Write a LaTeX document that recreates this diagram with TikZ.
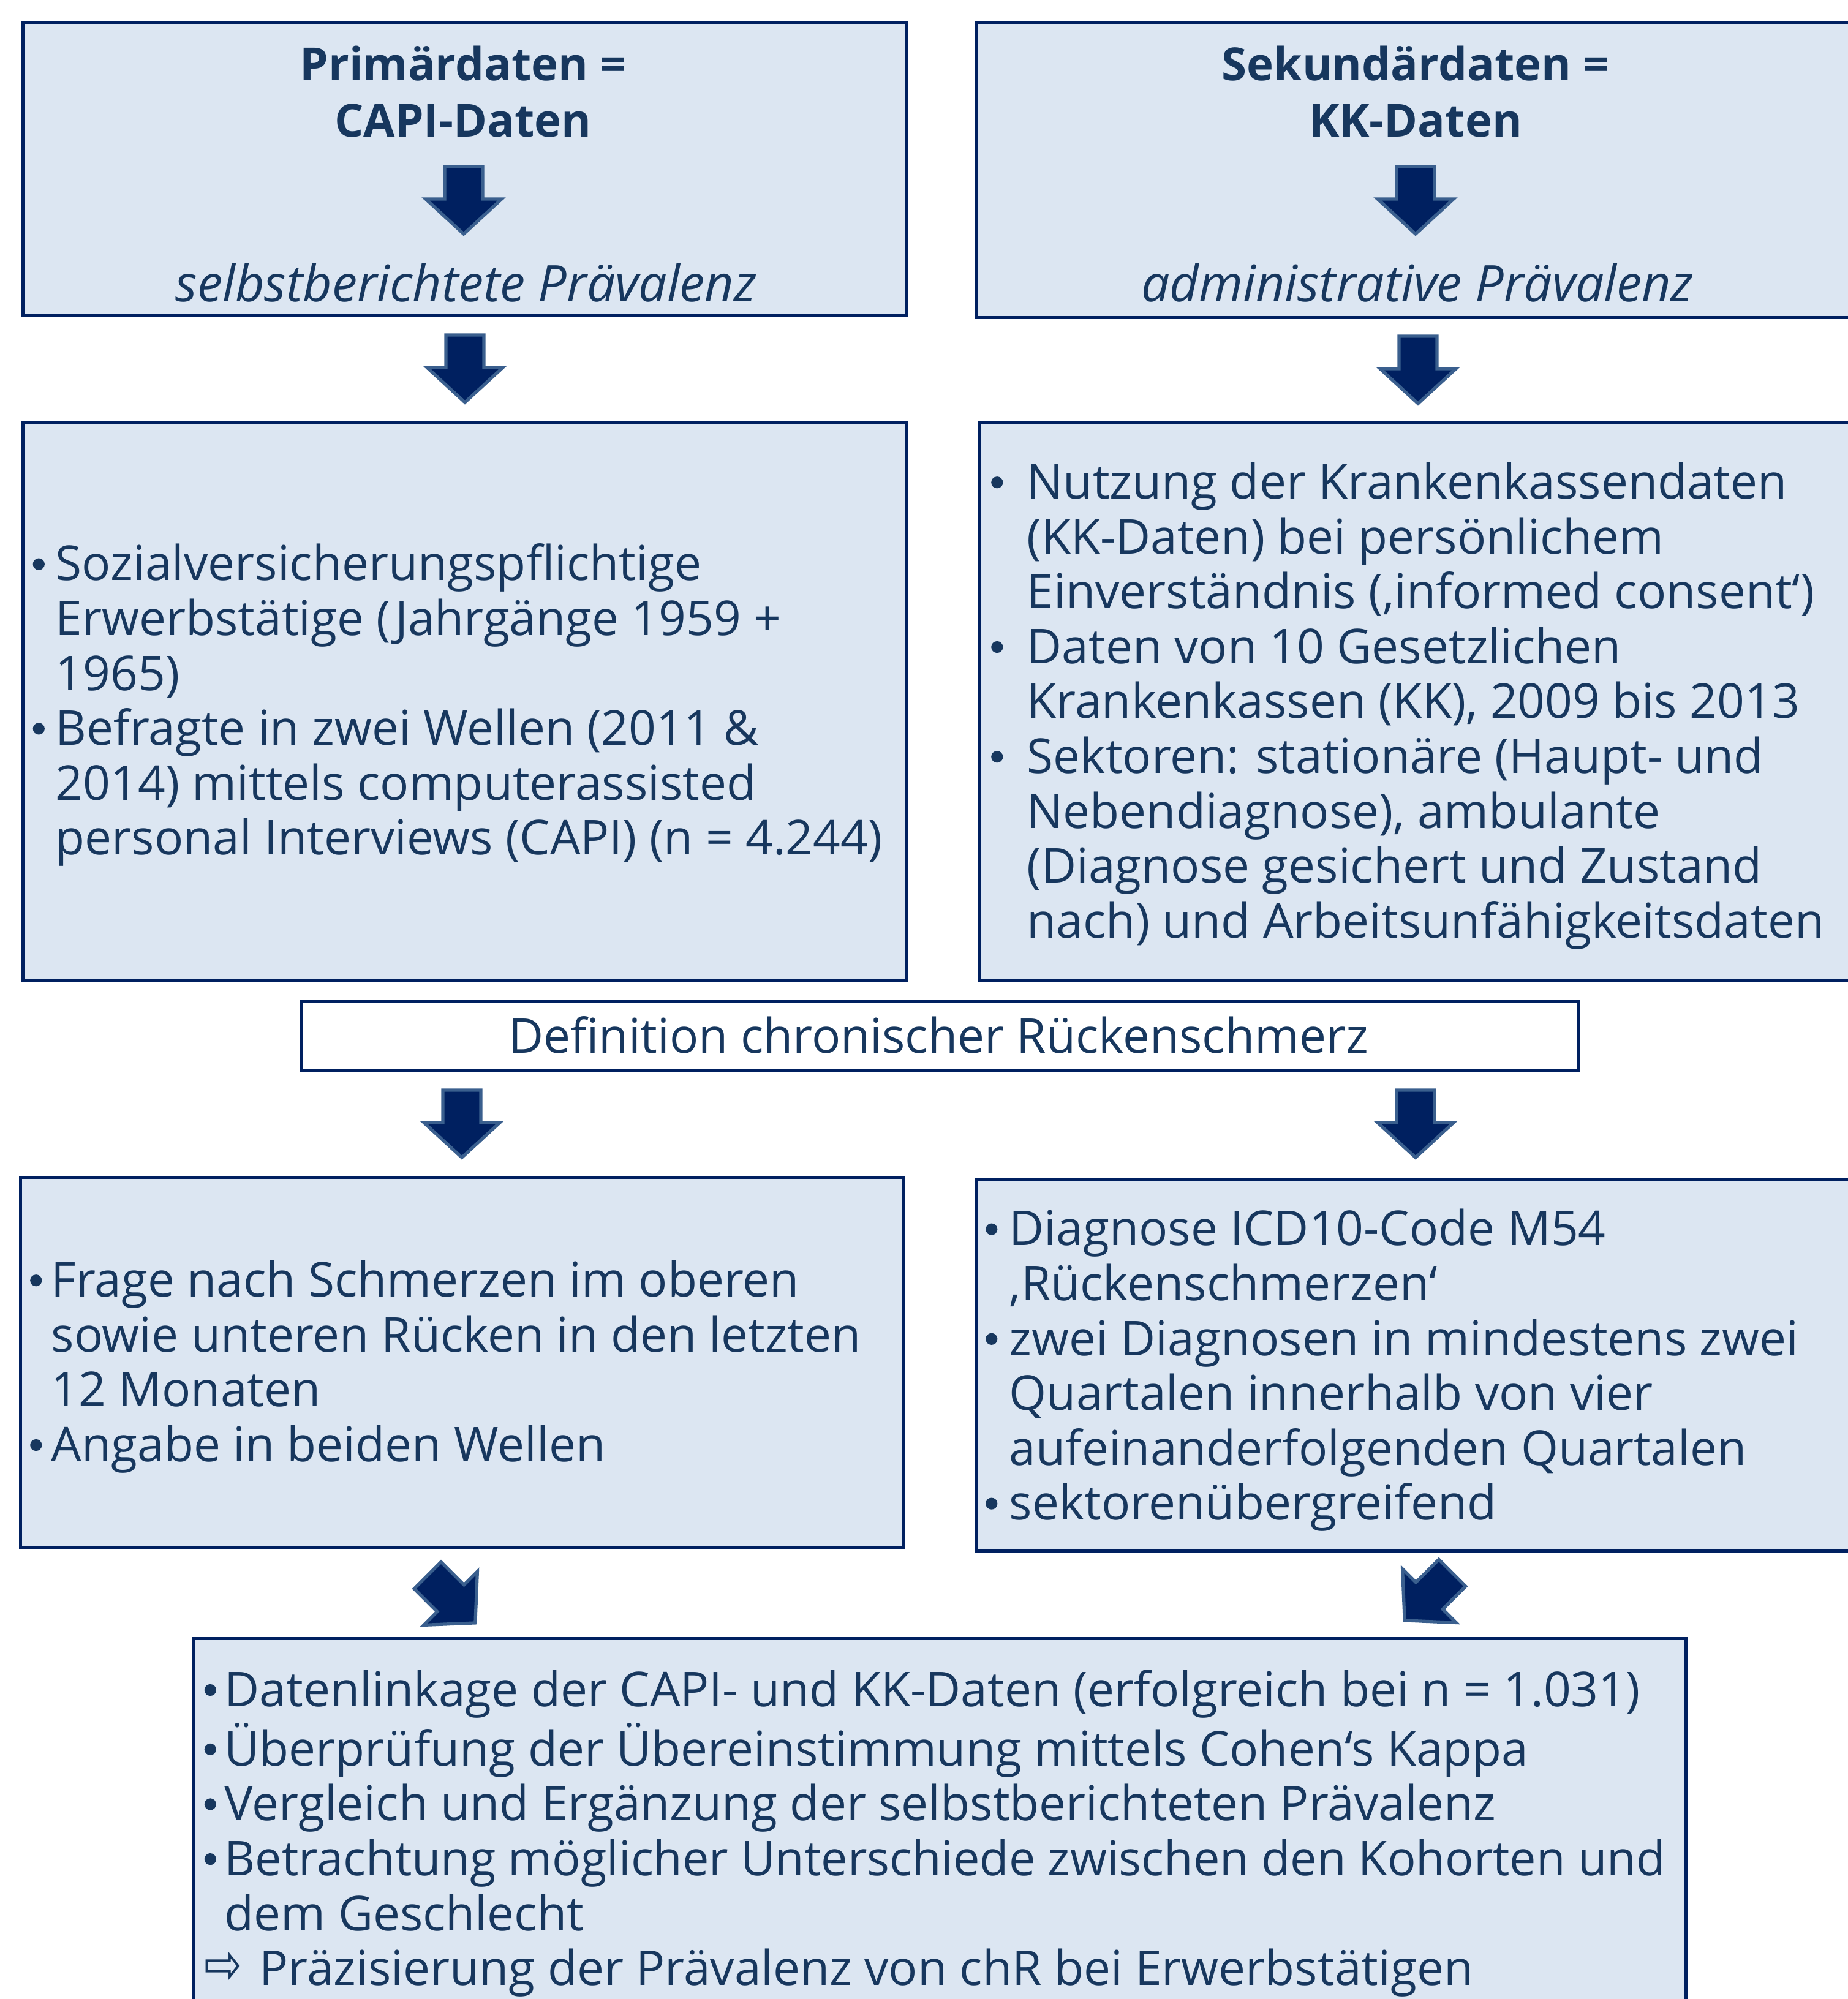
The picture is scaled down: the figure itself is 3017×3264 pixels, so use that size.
\documentclass[tikz,border=0pt]{standalone}
\usepackage{fontspec}
\setmainfont{Open Sans}
\newfontfamily\dejavu{DejaVu Sans}
\usetikzlibrary{calc}
\definecolor{boxfill}{HTML}{DCE6F2}
\definecolor{boxline}{HTML}{002060}
\definecolor{txt}{HTML}{17375E}
\definecolor{arrfill}{HTML}{002060}
\definecolor{arrline}{HTML}{3A5F8E}
\newcommand\bul{\makebox[0pt][c]{\tikz[baseline=0pt]\fill[txt] (0pt,6.7pt) circle[radius=2.4pt];}}
\tikzset{
  panel/.style={draw=boxline, fill=boxfill, line width=1.25pt, inner sep=0pt, anchor=north west},
  body/.style={inner sep=0pt, text=txt, font=\fontsize{19.6}{22.4}\selectfont},
  titletext/.style={inner sep=0pt, text=txt, align=center, font=\fontsize{18.6}{23}\selectfont\bfseries},
  italicline/.style={inner sep=0pt, text=txt, font=\fontsize{20.6}{22.4}\selectfont\itshape},
  barrow/.pic={\draw[fill=arrfill, draw=arrline, line width=1.3pt]
    (-31,-55) -- (31,-55) -- (31,-2) -- (62,-2) -- (0,55) -- (-62,-2) -- (-31,-2) -- cycle;}
}
\begin{document}
\begin{tikzpicture}[x=0.25pt,y=-0.25pt]
\useasboundingbox (0,0) rectangle (3017,3264);
% top boxes
\node[panel, minimum width=360.75pt, minimum height=119.25pt] (b1) at (35,35) {};
\node[panel, minimum width=360pt, minimum height=120.25pt] (b2) at (1591,35) {};
\node[titletext] (h1) at (756,150) {Primärdaten =\\CAPI-Daten};
\node[italicline] (s1) at (761,462) {selbstberichtete Prävalenz};
\node[titletext] (h2) at (2311,150) {Sekundärdaten =\\KK-Daten};
\node[italicline] (s2) at (2314,462) {administrative Prävalenz};
\pic at (757,327) {barrow};
\pic at (2311,327) {barrow};
% second row
\node[panel, minimum width=360.75pt, minimum height=228pt] (b3) at (35,687) {};
\node[panel, minimum width=358.5pt, minimum height=228pt] (b4) at (1597,687) {};
\pic at ($(b1.south)!0.5!(b3.north)$) {barrow};
\pic at ($(b2.south)!0.5!(b4.north)$) {barrow};
\node[body, anchor=west] (t3) at (62.5,1154) {\begin{tabular}{@{}p{6.875pt}@{}l@{}}
\bul & Sozialversicherungspflichtige\\
 & Erwerbstätige (Jahrgänge 1959 +\\
 & 1965)\\
\bul & Befragte in zwei Wellen (2011 \&\\
 & 2014) mittels computerassisted\\
 & personal Interviews (CAPI) (n = 4.244)
\end{tabular}};
\node[body, anchor=west] (t4) at (1627,1155) {\begin{tabular}{@{}p{12.25pt}@{}l@{}}
\bul & Nutzung der Krankenkassendaten\\
 & (KK-Daten) bei persönlichem\\
 & Einverständnis (‚informed consent‘)\\
\bul & Daten von 10 Gesetzlichen\\
 & Krankenkassen (KK), 2009 bis 2013\\
\bul & Sektoren: stationäre (Haupt- und\\
 & Nebendiagnose), ambulante\\
 & (Diagnose gesichert und Zustand\\
 & nach) und Arbeitsunfähigkeitsdaten
\end{tabular}};
% definition
\node[panel, fill=white, minimum width=521.5pt, minimum height=28.25pt] (d) at (489,1632) {};
\node[body] (dt) at (1532,1690) {Definition chronischer Rückenschmerz};
% third row
\node[panel, minimum width=360.25pt, minimum height=151.25pt] (b5) at (31,1920) {};
\node[panel, minimum width=360pt, minimum height=151.5pt] (b6) at (1591,1924) {};
\pic at (754,1835) {barrow};
\pic at (2311,1835) {barrow};
\node[body, anchor=west] (t5) at (58,2234) {\begin{tabular}{@{}p{6.25pt}@{}l@{}}
\bul & Frage nach Schmerzen im oberen\\
 & sowie unteren Rücken in den letzten\\
 & 12 Monaten\\
\bul & Angabe in beiden Wellen
\end{tabular}};
\node[body, anchor=west] (t6) at (1618,2240) {\begin{tabular}{@{}p{7.25pt}@{}l@{}}
\bul & Diagnose ICD10-Code M54\\
 & ‚Rückenschmerzen‘\\
\bul & zwei Diagnosen in mindestens zwei\\
 & Quartalen innerhalb von vier\\
 & aufeinanderfolgenden Quartalen\\
\bul & sektorenübergreifend
\end{tabular}};
% bottom
\node[panel, minimum width=609pt, minimum height=156.75pt] (b7) at (314,2673) {};
\pic[rotate=45] at (737,2611) {barrow};
\pic[rotate=-45] at (2332,2607) {barrow};
\node[body, anchor=west] (t7) at (342.5,2996) {\begin{tabular}{@{}p{5.875pt}@{}l@{}}
\bul & Datenlinkage der CAPI- und KK-Daten (erfolgreich bei n = 1.031)\\
\bul & Überprüfung der Übereinstimmung mittels Cohen‘s Kappa\\
\bul & Vergleich und Ergänzung der selbstberichteten Prävalenz\\
\bul & \scalebox{0.987}[1]{Betrachtung möglicher Unterschiede zwischen den Kohorten und}\\
 & dem Geschlecht\\
\multicolumn{2}{@{}l@{}}{\hspace*{-2.5pt}\makebox[22.6pt][l]{\raisebox{0.6pt}{\resizebox{15.5pt}{13pt}{\dejavu ⇨}}}Präzisierung der Prävalenz von chR bei Erwerbstätigen}
\end{tabular}};
\end{tikzpicture}
\end{document}
